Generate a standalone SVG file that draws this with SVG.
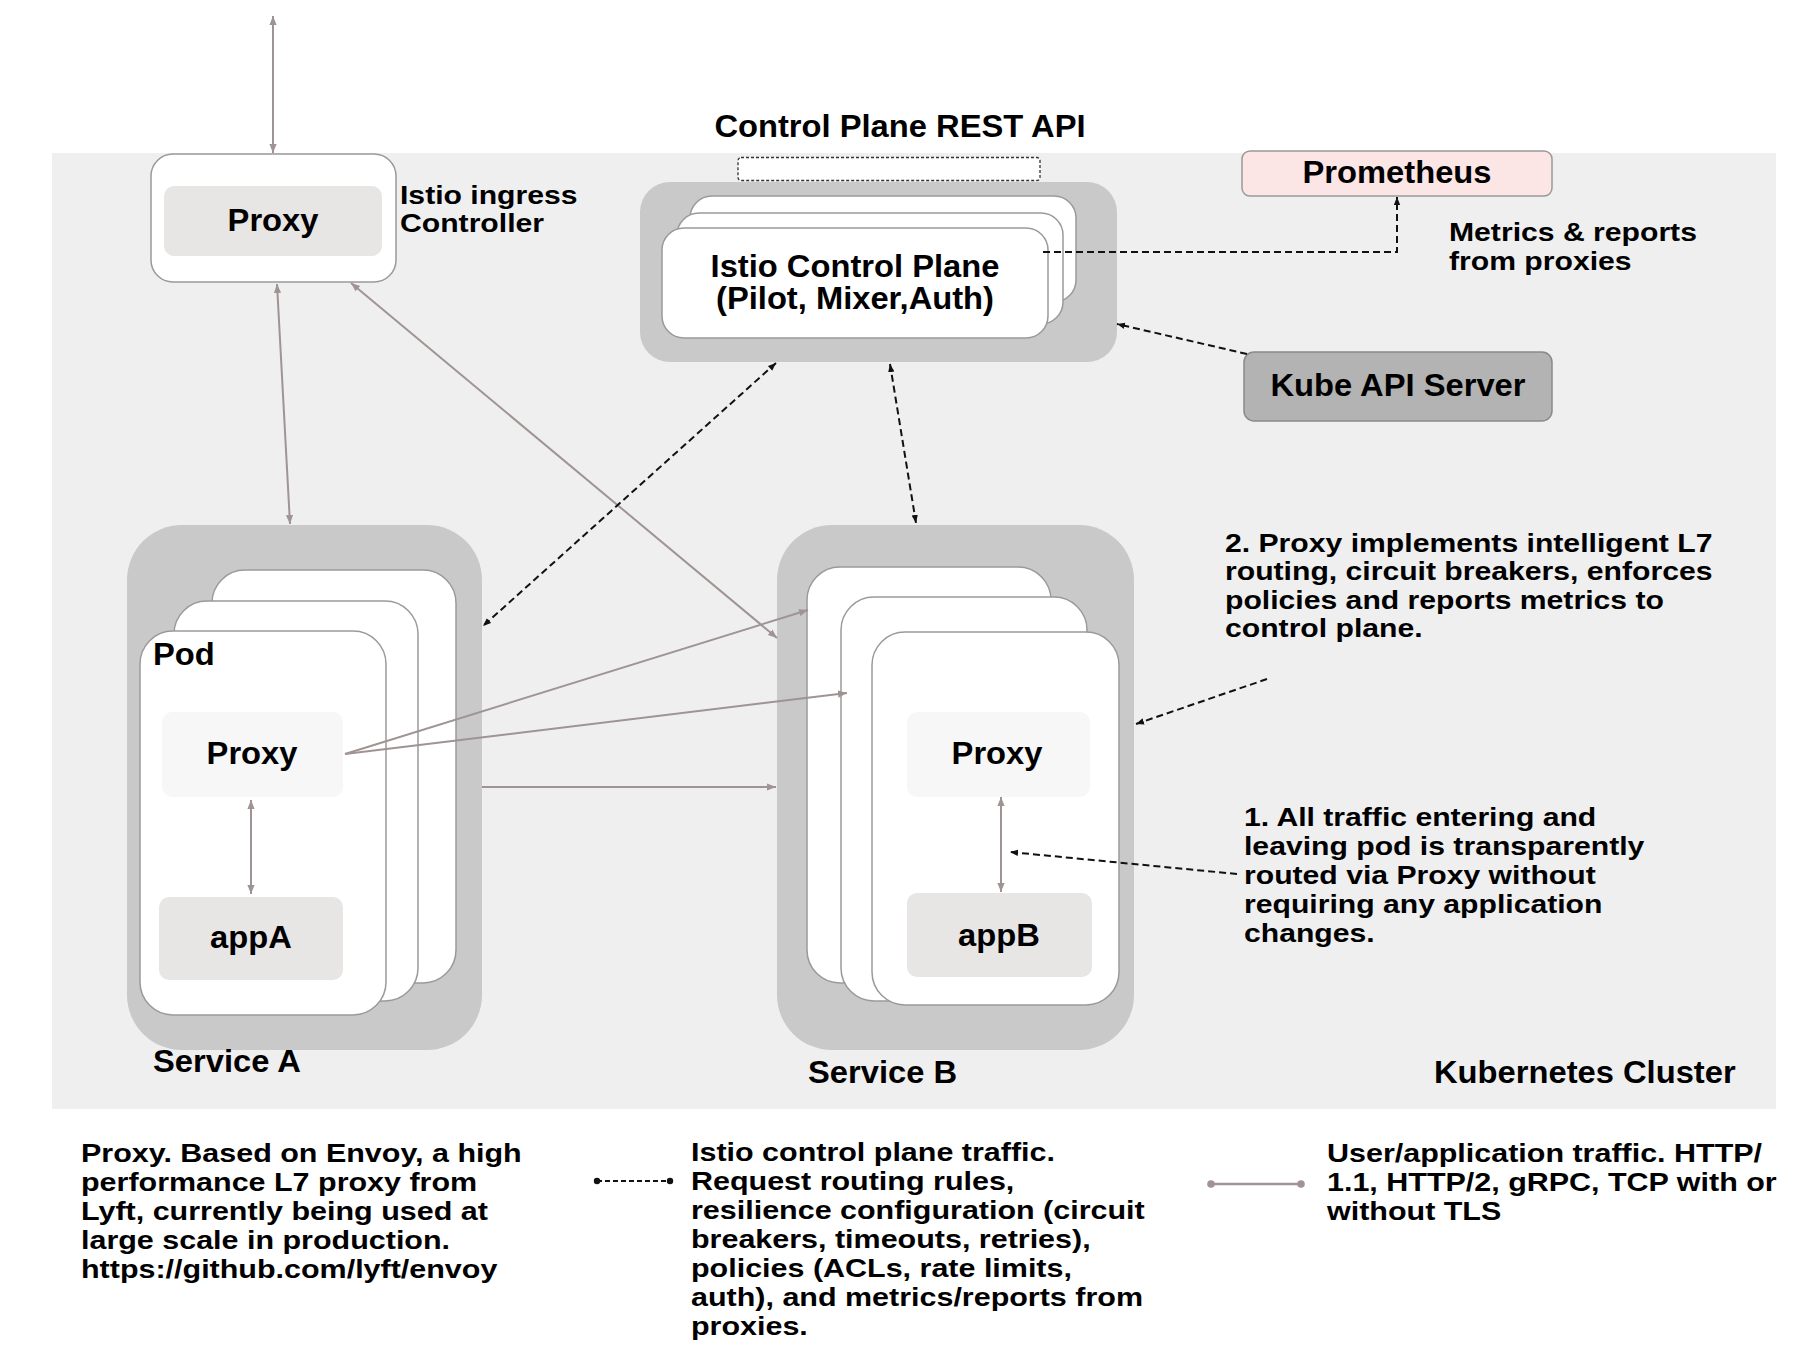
<svg xmlns="http://www.w3.org/2000/svg" width="1816" height="1358" viewBox="0 0 1816 1358">
<defs>
<style>
.lb{font-family:"Liberation Sans",Arial,sans-serif;font-weight:bold;font-size:31px;fill:#000;}
.bd{font-family:"Liberation Sans",Arial,sans-serif;font-weight:bold;font-size:26.5px;fill:#000;}
.nt{font-family:"Liberation Sans",Arial,sans-serif;font-weight:bold;font-size:26px;fill:#000;}
.card{fill:#fff;stroke:#9a9a9a;stroke-width:1.5;}
.svc{fill:#c9c9c9;}
.g{stroke:#a09393;stroke-width:2;fill:none;}
.k{stroke:#111;stroke-width:2;stroke-dasharray:7,4;fill:none;}
</style>
<marker id="ag" viewBox="0 0 10 10" refX="10" refY="5" markerWidth="9" markerHeight="9" markerUnits="userSpaceOnUse" orient="auto-start-reverse"><path d="M0,1 L10,5 L0,9 z" fill="#a09393"/></marker>
<marker id="ak" viewBox="0 0 10 10" refX="10" refY="5" markerWidth="8" markerHeight="8" markerUnits="userSpaceOnUse" orient="auto-start-reverse"><path d="M0,1 L10,5 L0,9 z" fill="#111"/></marker>
</defs>
<rect x="0" y="0" width="1816" height="1358" fill="#fff"/>
<g id="cluster">
<rect x="52" y="153" width="1724" height="956" fill="#efefef"/>
<text class="lb" transform="matrix(1.055,0,0,1,1434,0)" x="0" y="1083">Kubernetes Cluster</text>
</g>
<g id="ingress">
<rect x="151" y="154" width="245" height="128" rx="22" class="card"/>
<rect x="164" y="186" width="218" height="70" rx="10" fill="#e8e5e5"/>
<text class="lb" text-anchor="middle" transform="matrix(1.055,0,0,1,273,0)" x="0" y="231">Proxy</text>
<text class="nt" transform="matrix(1.16,0,0,1,400,0)"><tspan x="0" y="204">Istio ingress</tspan><tspan x="0" y="232">Controller</tspan></text>
</g>
<g id="rest-api">
<text class="lb" text-anchor="middle" transform="matrix(1.055,0,0,1,900,0)" x="0" y="137">Control Plane REST API</text>
<rect x="738" y="157.5" width="302" height="23" rx="3" fill="#fff" stroke="#333" stroke-width="1.3" stroke-dasharray="3,2"/>
</g>
<g id="control-plane">
<rect x="640" y="182" width="477" height="180" rx="30" class="svc"/>
<rect x="690" y="196" width="386" height="106" rx="22" class="card"/>
<rect x="677" y="213" width="386" height="111" rx="22" class="card"/>
<rect x="662" y="228" width="386" height="110" rx="22" class="card"/>
<text class="lb" text-anchor="middle" transform="matrix(1.055,0,0,1,855,0)"><tspan x="0" y="277">Istio Control Plane</tspan><tspan x="0" y="309">(Pilot, Mixer,Auth)</tspan></text>
</g>
<g id="prometheus">
<rect x="1242" y="151" width="310" height="45" rx="8" fill="#fce5e5" stroke="#999" stroke-width="1.5"/>
<text class="lb" text-anchor="middle" transform="matrix(1.055,0,0,1,1397,0)" x="0" y="183">Prometheus</text>
</g>
<g id="metrics-label">
<text class="nt" transform="matrix(1.16,0,0,1,1449,0)"><tspan x="0" y="241">Metrics &amp; reports</tspan><tspan x="0" y="270">from proxies</tspan></text>
</g>
<g id="kube-api">
<rect x="1244" y="352" width="308" height="69" rx="10" fill="#b3b3b3" stroke="#8a8a8a" stroke-width="1.5"/>
<text class="lb" text-anchor="middle" transform="matrix(1.055,0,0,1,1398,0)" x="0" y="396">Kube API Server</text>
</g>
<g id="service-a">
<rect x="127" y="525" width="355" height="525" rx="55" class="svc"/>
<rect x="212" y="570" width="244" height="413" rx="33" class="card"/>
<rect x="174" y="601" width="244" height="400" rx="33" class="card"/>
<rect x="140" y="631" width="246" height="384" rx="33" class="card"/>
<text class="lb" transform="matrix(1.055,0,0,1,153,0)" x="0" y="665">Pod</text>
<rect x="162" y="712" width="181" height="85" rx="10" fill="#f7f7f7"/>
<text class="lb" text-anchor="middle" transform="matrix(1.055,0,0,1,252,0)" x="0" y="764">Proxy</text>
<rect x="159" y="897" width="184" height="83" rx="10" fill="#e8e5e5"/>
<text class="lb" text-anchor="middle" transform="matrix(1.055,0,0,1,251,0)" x="0" y="948">appA</text>
<text class="lb" transform="matrix(1.055,0,0,1,153,0)" x="0" y="1072">Service A</text>
</g>
<g id="service-b">
<rect x="777" y="525" width="357" height="525" rx="55" class="svc"/>
<rect x="807" y="567" width="244" height="416" rx="33" class="card"/>
<rect x="841" y="597" width="246" height="404" rx="33" class="card"/>
<rect x="872" y="632" width="247" height="373" rx="33" class="card"/>
<rect x="907" y="712" width="183" height="85" rx="10" fill="#f7f7f7"/>
<text class="lb" text-anchor="middle" transform="matrix(1.055,0,0,1,997,0)" x="0" y="764">Proxy</text>
<rect x="907" y="893" width="185" height="84" rx="10" fill="#e8e5e5"/>
<text class="lb" text-anchor="middle" transform="matrix(1.055,0,0,1,999,0)" x="0" y="946">appB</text>
<text class="lb" transform="matrix(1.055,0,0,1,808,0)" x="0" y="1083">Service B</text>
</g>
<g id="note-2">
<text class="nt" transform="matrix(1.16,0,0,1,1225,0)"><tspan x="0" y="552">2. Proxy implements intelligent L7</tspan><tspan x="0" y="580.5">routing, circuit breakers, enforces</tspan><tspan x="0" y="609">policies and reports metrics to</tspan><tspan x="0" y="637.5">control plane.</tspan></text>
</g>
<g id="note-1">
<text class="nt" transform="matrix(1.16,0,0,1,1244,0)"><tspan x="0" y="826">1. All traffic entering and</tspan><tspan x="0" y="855">leaving pod is transparently</tspan><tspan x="0" y="884">routed via Proxy without</tspan><tspan x="0" y="913">requiring any application</tspan><tspan x="0" y="942">changes.</tspan></text>
</g>
<g id="connectors">
<line class="g" x1="273" y1="16" x2="273" y2="153" marker-start="url(#ag)" marker-end="url(#ag)"/>
<line class="g" x1="277" y1="284" x2="290" y2="524" marker-start="url(#ag)" marker-end="url(#ag)"/>
<line class="g" x1="351" y1="283" x2="777" y2="638" marker-start="url(#ag)" marker-end="url(#ag)"/>
<line class="g" x1="345" y1="754" x2="808" y2="610" marker-end="url(#ag)"/>
<line class="g" x1="345" y1="754" x2="847" y2="693" marker-end="url(#ag)"/>
<line class="g" x1="482" y1="787" x2="776" y2="787" marker-end="url(#ag)"/>
<line class="g" x1="251" y1="800" x2="251" y2="894" marker-start="url(#ag)" marker-end="url(#ag)"/>
<line class="g" x1="1001" y1="797" x2="1001" y2="892" marker-start="url(#ag)" marker-end="url(#ag)"/>
<line class="k" x1="776" y1="363" x2="483" y2="626" marker-start="url(#ak)" marker-end="url(#ak)"/>
<line class="k" x1="890" y1="364" x2="916" y2="523" marker-start="url(#ak)" marker-end="url(#ak)"/>
<polyline class="k" points="1043,252 1397,252 1397,197" marker-end="url(#ak)"/>
<line class="k" x1="1247" y1="354" x2="1117" y2="324" marker-end="url(#ak)"/>
<line class="k" x1="1267" y1="679" x2="1136" y2="724" marker-end="url(#ak)"/>
<line class="k" x1="1237" y1="874" x2="1010" y2="852" marker-end="url(#ak)"/>
</g>
<g id="legend-proxy">
<text class="bd" transform="matrix(1.15,0,0,1,81,0)"><tspan x="0" y="1162">Proxy. Based on Envoy, a high</tspan><tspan x="0" y="1191">performance L7 proxy from</tspan><tspan x="0" y="1220">Lyft, currently being used at</tspan><tspan x="0" y="1249">large scale in production.</tspan><tspan x="0" y="1278">https://github.com/lyft/envoy</tspan></text>
</g>
<g id="legend-control">
<line x1="597" y1="1181" x2="670" y2="1181" stroke="#111" stroke-width="2" stroke-dasharray="5,3"/>
<circle cx="597" cy="1181" r="3.2" fill="#111"/>
<circle cx="670" cy="1181" r="3.2" fill="#111"/>
<text class="bd" transform="matrix(1.15,0,0,1,691,0)"><tspan x="0" y="1161">Istio control plane traffic.</tspan><tspan x="0" y="1190">Request routing rules,</tspan><tspan x="0" y="1219">resilience configuration (circuit</tspan><tspan x="0" y="1248">breakers, timeouts, retries),</tspan><tspan x="0" y="1277">policies (ACLs, rate limits,</tspan><tspan x="0" y="1306">auth), and metrics/reports from</tspan><tspan x="0" y="1335">proxies.</tspan></text>
</g>
<g id="legend-user">
<line x1="1211" y1="1184" x2="1301" y2="1184" stroke="#a09393" stroke-width="2.5"/>
<circle cx="1211" cy="1184" r="3.8" fill="#a09393"/>
<circle cx="1301" cy="1184" r="3.8" fill="#a09393"/>
<text class="bd" transform="matrix(1.15,0,0,1,1327,0)"><tspan x="0" y="1162">User/application traffic. HTTP/</tspan><tspan x="0" y="1191">1.1, HTTP/2, gRPC, TCP with or</tspan><tspan x="0" y="1220">without TLS</tspan></text>
</g>
</svg>
